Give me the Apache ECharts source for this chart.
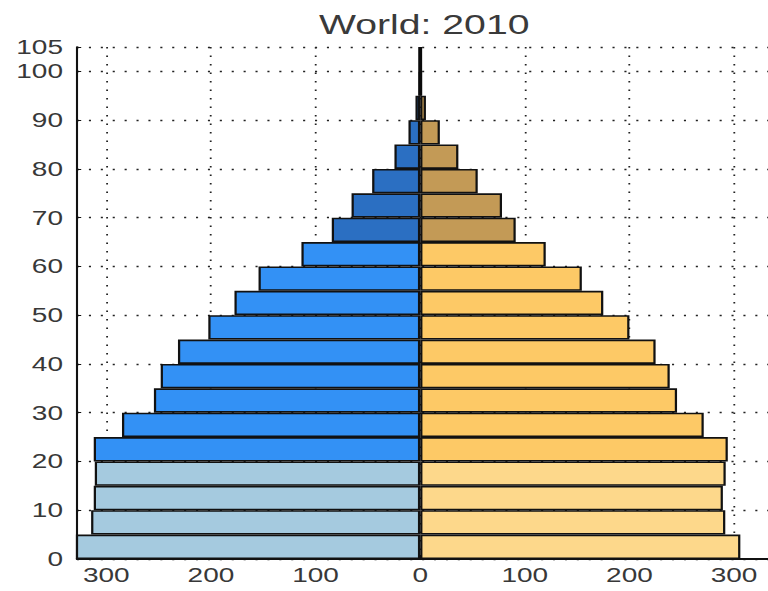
<!DOCTYPE html>
<html>
<head>
<meta charset="utf-8">
<script src="https://cdn.jsdelivr.net/npm/echarts@6/dist/echarts.min.js"></script>
<style>
  html, body { margin: 0; padding: 0; background: #ffffff; overflow: hidden; }
  #chart { width: 548.57px; height: 591px; transform: scaleX(1.4); transform-origin: 0 0; }
</style>
</head>
<body>
<div id="chart"></div>
<script>
// Age groups (5-year bands, 0-4 ... 100+)
const ageGroups = ['0-4','5-9','10-14','15-19','20-24','25-29','30-34','35-39','40-44','45-49',
                   '50-54','55-59','60-64','65-69','70-74','75-79','80-84','85-89','90-94','95-99','100+'];
// Population in millions
const male   = [330, 314.5, 312, 311, 312, 285, 254.5, 248, 231.5, 202.5, 177.5, 154.5, 113.5, 84.5, 65.6, 45.9, 24.6, 11.2, 4.5, 0.8, 0.1];
const female = [306, 291.6, 289.3, 292, 294, 271, 245.5, 238.5, 225, 200, 175, 154.5, 120, 91.3, 78.2, 55, 36.5, 18.8, 5.5, 1.5, 0.3];
const yTicks = [0, 10, 20, 30, 40, 50, 60, 70, 80, 90, 100, 105];
const xTickLabels = [300, 200, 100, 0, 100, 200, 300];
// Vertical centre line drawn over the oldest age bands (age range)
const centerLineAges = [95, 105];

const maleColors   = { young: '#a5cadf', adult: '#3391f5', old: '#2b6fc2' };
const femaleColors = { young: '#fdd88b', adult: '#fdc966', old: '#c39a56' };

function band(i) { return i < 4 ? 'young' : (i < 13 ? 'adult' : 'old'); }

const maleData = male.map((v, i) => ({ value: -v, itemStyle: { color: maleColors[band(i)] } }));
const femaleData = female.map((v, i) => ({ value: v, itemStyle: { color: femaleColors[band(i)] } }));
const centerLineData = centerLineAges.map(a => [0, a]);

const gridLine = { show: true, lineStyle: { color: '#222', width: 1.3, type: [1.5, 7] } };
const labelFont = { fontFamily: 'Liberation Sans, Arial, sans-serif', fontSize: 20, color: '#383838' };

const chart = echarts.init(document.getElementById('chart'), null, { renderer: 'svg' });
chart.setOption({
  animation: false,
  backgroundColor: '#ffffff',
  title: {
    text: 'World: 2010',
    left: 298,
    top: 5,
    textAlign: 'center',
    textStyle: { fontFamily: 'Liberation Sans, Arial, sans-serif', fontSize: 28, fontWeight: 'normal', color: '#3a3a3a' }
  },
  grid: { left: 55, right: 0, top: 47, bottom: 32, containLabel: false },
  xAxis: {
    type: 'value',
    min: -328,
    max: 333,
    minInterval: 100,
    maxInterval: 100,
    axisLine: { show: true, onZero: false, lineStyle: { color: '#111', width: 1.8 } },
    axisTick: { show: true, inside: true, length: 4, lineStyle: { color: '#111' } },
    axisLabel: Object.assign({
      margin: 6,
      showMinLabel: false,
      showMaxLabel: false,
      formatter: v => (Math.abs(v) % 100 === 0 && xTickLabels.includes(Math.abs(v))) ? String(Math.abs(v)) : ''
    }, labelFont),
    splitLine: Object.assign({ showMinLine: false, showMaxLine: false }, gridLine)
  },
  yAxis: [
    {
      type: 'category',
      data: ageGroups,
      show: false
    },
    {
      type: 'value',
      min: 0,
      max: 105,
      interval: 10,
      position: 'left',
      axisLine: { show: true, onZero: false, lineStyle: { color: '#111', width: 1.5 } },
      axisTick: { show: true, inside: true, length: 3, lineStyle: { color: '#111' } },
      axisLabel: Object.assign({
        margin: 10,
        formatter: v => (yTicks.includes(v) ? String(v) : '')
      }, labelFont),
      splitLine: gridLine
    }
  ],
  series: [
    {
      name: 'Male',
      type: 'bar',
      yAxisIndex: 0,
      data: maleData,
      barCategoryGap: '0%',
      barGap: '-100%',
      clip: true,
      itemStyle: { borderColor: '#111', borderWidth: 1.6 }
    },
    {
      name: 'Female',
      type: 'bar',
      yAxisIndex: 0,
      data: femaleData,
      barCategoryGap: '0%',
      barGap: '-100%',
      clip: true,
      itemStyle: { borderColor: '#111', borderWidth: 1.6 }
    },
    {
      name: 'centre',
      type: 'line',
      yAxisIndex: 1,
      data: centerLineData,
      symbol: 'none',
      silent: true,
      z: 5,
      lineStyle: { color: '#0a0a0a', width: 2.8 }
    }
  ]
});
</script>
</body>
</html>
